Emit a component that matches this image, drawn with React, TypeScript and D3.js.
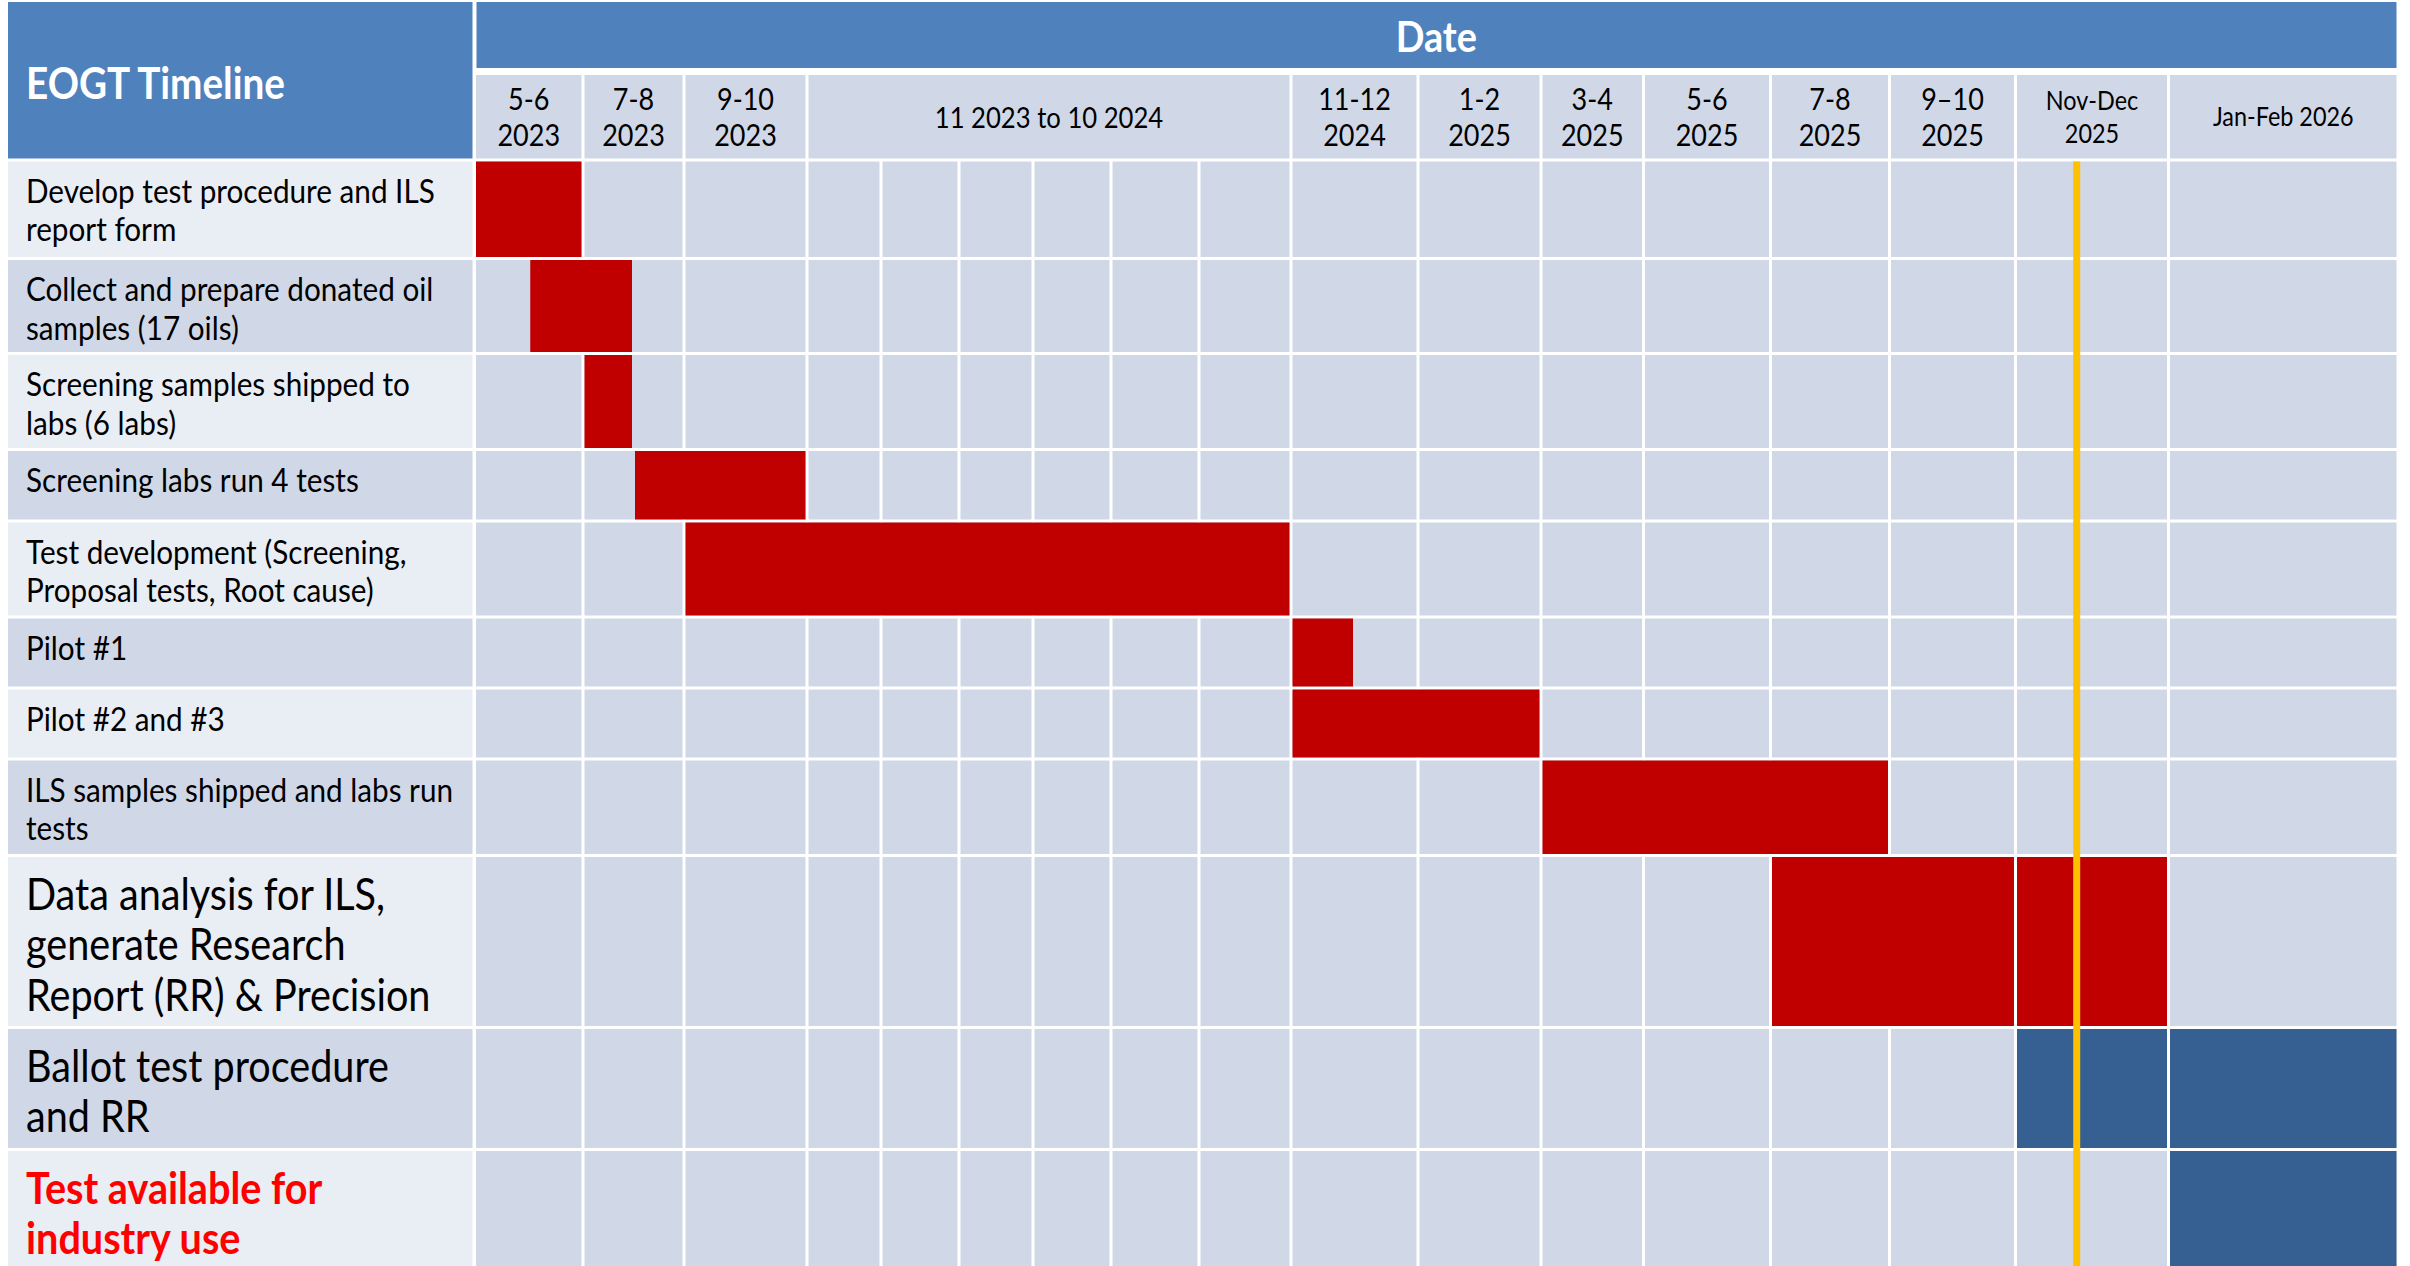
import { useEffect, useRef } from 'react';
import * as d3 from 'd3';

// time axis: months counted from the start of May 2023
const gridTicks = [0, 2, 4, 6, 8, 10, 12, 14, 16, 18, 20, 22, 24, 26, 28, 30, 32, 34];

const periodLabels = [
  ['5-6', '2023'], ['7-8', '2023'], ['9-10', '2023'], ['11 2023 to 10 2024'],
  ['11-12', '2024'], ['1-2', '2025'], ['3-4', '2025'], ['5-6', '2025'],
  ['7-8', '2025'], ['9–10', '2025'], ['Nov-Dec', '2025'], ['Jan-Feb 2026'],
];
const periodStart = [0, 2, 4, 6, 18, 20, 22, 24, 26, 28, 30, 32];
const periodEnd = [2, 4, 6, 18, 20, 22, 24, 26, 28, 30, 32, 34];

const taskLabels = [
  ['Develop test procedure and ILS', 'report form'],
  ['Collect and prepare donated oil', 'samples (17 oils)'],
  ['Screening samples shipped to', 'labs (6 labs)'],
  ['Screening labs run 4 tests'],
  ['Test development (Screening,', 'Proposal tests, Root cause)'],
  ['Pilot #1'],
  ['Pilot #2 and #3'],
  ['ILS samples shipped and labs run', 'tests'],
  ['Data analysis for ILS,', 'generate Research', 'Report (RR) & Precision'],
  ['Ballot test procedure', 'and RR'],
  ['Test available for', 'industry use'],
];

// bar segments (task index, start month, end month, kind)
const segTask = [0, 1, 2, 3, 4, 5, 6, 7, 8, 8, 9, 9, 10];
const segStart = [0, 1, 2, 3, 4, 18, 18, 22, 26, 30, 30, 32, 32];
const segEnd = [2, 3, 3, 6, 18, 19, 22, 28, 30, 32, 32, 34, 34];
const segKind = ['work', 'work', 'work', 'work', 'work', 'work', 'work', 'work', 'work', 'work', 'ballot', 'ballot', 'ballot'];

const todayMonth = 30.8;

// layout
const W = 2410;
const H = 1266;
const colEdgesPx = [474.5, 583, 684, 807, 881, 959, 1033, 1111, 1199, 1291, 1418, 1541, 1643.5, 1770.5, 1889.5, 2015.5, 2168.5, 2398];
const rowEdgesPx = [160, 258.5, 353.5, 449.5, 521, 617, 688, 759, 855.5, 1027.5, 1149.5, 1275];
const labelX0 = 8;
const FONT = "Lato, Carlito, 'Open Sans', sans-serif";
const SX = 0.9; // narrow the font a bit to get Calibri-like widths

const App = () => {
  const ref = useRef(null);

  useEffect(() => {
    const svg = d3.select(ref.current)
      .attr('width', W)
      .attr('height', H);
    svg.selectAll('*').remove();

    const x = d3.scaleLinear().domain(gridTicks).range(colEdgesPx);
    const y = d3.scaleLinear().domain(d3.range(rowEdgesPx.length)).range(rowEdgesPx);

    svg.append('rect').attr('width', W).attr('height', H).attr('fill', '#ffffff');

    const addText = (g, str, tx, ty, size, opts = {}) => {
      g.append('text')
        .attr('transform', `translate(${tx},${ty}) scale(${SX},1)`)
        .attr('font-family', FONT)
        .attr('font-size', size)
        .attr('font-weight', opts.bold ? 700 : 400)
        .attr('fill', opts.fill || '#000000')
        .attr('text-anchor', opts.anchor || 'start')
        .attr('dominant-baseline', 'central')
        .text(str);
    };

    /** Header */
    const header = svg.append('g');
    header.append('rect')
      .attr('x', labelX0).attr('y', 2)
      .attr('width', colEdgesPx[0] - 2 - labelX0).attr('height', rowEdgesPx[0] - 1.5 - 2)
      .attr('fill', '#4F81BD');
    addText(header, 'EOGT Timeline', 26, 83, 43, { bold: true, fill: '#ffffff' });

    header.append('rect')
      .attr('x', x(gridTicks[0]) + 2).attr('y', 2)
      .attr('width', x(gridTicks[gridTicks.length - 1]) - x(gridTicks[0]) - 3.5).attr('height', 66)
      .attr('fill', '#4F81BD');
    addText(header, 'Date', (x(gridTicks[0]) + x(gridTicks[gridTicks.length - 1])) / 2, 36, 42,
      { bold: true, fill: '#ffffff', anchor: 'middle' });

    periodLabels.forEach((lines, i) => {
      const x0 = x(periodStart[i]);
      const x1 = x(periodEnd[i]);
      header.append('rect')
        .attr('x', x0 + 1.5).attr('y', 75)
        .attr('width', x1 - x0 - 3).attr('height', rowEdgesPx[0] - 1.5 - 75)
        .attr('fill', '#D0D8E8');
      const small = lines[0].startsWith('Nov') || lines[0].startsWith('Jan');
      const wide = lines[0].length > 12;
      const size = small ? 26 : wide ? 28.5 : 30;
      const lh = small ? 33 : 36;
      const cy = 116.5;
      lines.forEach((s, k) => {
        addText(header, s, (x0 + x1) / 2, cy + (k - (lines.length - 1) / 2) * lh, size, { anchor: 'middle' });
      });
    });

    /** Grid */
    const grid = svg.append('g');
    taskLabels.forEach((lines, i) => {
      const y0 = y(i);
      const y1 = y(i + 1);
      grid.append('rect')
        .attr('x', labelX0).attr('y', y0 + 1.5)
        .attr('width', colEdgesPx[0] - 2 - labelX0).attr('height', y1 - y0 - 3)
        .attr('fill', i % 2 === 0 ? '#E9EDF4' : '#D0D8E8');

      gridTicks.slice(0, -1).forEach((t, j) => {
        const cx0 = x(t);
        const cx1 = x(gridTicks[j + 1]);
        grid.append('rect')
          .attr('x', cx0 + 1.5).attr('y', y0 + 1.5)
          .attr('width', cx1 - cx0 - 3).attr('height', y1 - y0 - 3)
          .attr('fill', '#D0D8E8');
      });

      const big = i >= 8;
      const size = big ? 44 : 33;
      const lh = big ? 50.5 : 38.5;
      const off = big ? 37.5 : 30;
      lines.forEach((s, k) => {
        addText(grid, s, 26, y0 + off + k * lh, size, {
          bold: i === 10,
          fill: i === 10 ? '#FF0000' : '#000000',
        });
      });
    });

    /** Bars */
    svg.append('g')
      .selectAll('rect')
      .data(segTask.map((t, i) => ({ t, s: segStart[i], e: segEnd[i], k: segKind[i] })))
      .join('rect')
      .attr('x', (d) => x(d.s) + 1.5)
      .attr('y', (d) => y(d.t) + 1.5)
      .attr('width', (d) => x(d.e) - x(d.s) - 3)
      .attr('height', (d) => y(d.t + 1) - y(d.t) - 3)
      .attr('fill', (d) => (d.k === 'work' ? '#C00000' : '#366092'));

    /** Today marker */
    svg.append('line')
      .attr('x1', x(todayMonth)).attr('x2', x(todayMonth))
      .attr('y1', rowEdgesPx[0] + 1.5).attr('y2', H)
      .attr('stroke', '#FFC000')
      .attr('stroke-width', 7);
  }, []);

  return (
    <div>
      <svg ref={ref} style={{ position: 'absolute', left: 0, top: 0 }}></svg>
    </div>
  );
};

export default App;
